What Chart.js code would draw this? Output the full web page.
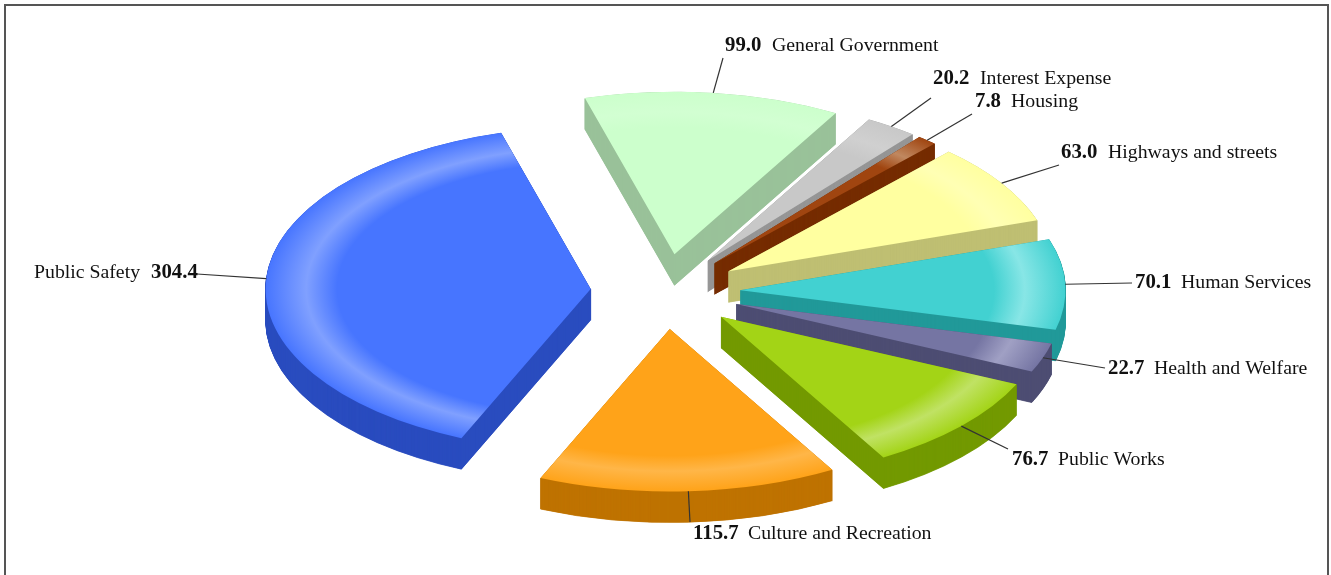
<!DOCTYPE html>
<html>
<head>
<meta charset="utf-8">
<title>Expenses by function</title>
<script src="https://cdn.jsdelivr.net/npm/chart.js@4"></script>
<style>
    html, body { margin: 0; padding: 0; background: #fff; overflow: hidden; }
    #frame { position: absolute; left: 4px; top: 4px; width: 1321px; height: 575px; border: solid #555; border-width: 2px 2px 0 2px; }
    #pie { position: absolute; left: 0; top: 0; }
</style>
</head>
<body>
<div id="frame"></div>
<canvas id="pie" width="1331" height="575"></canvas>
<script>
// Slices, clockwise from the top left
const categories = [
    "General Government",
    "Interest Expense",
    "Housing",
    "Highways and streets",
    "Human Services",
    "Health and Welfare",
    "Public Works",
    "Culture and Recreation",
    "Public Safety",
];
const amounts = [99.0, 20.2, 7.8, 63.0, 70.1, 22.7, 76.7, 115.7, 304.4];
const amountLabels = ["99.0", "20.2", "7.8", "63.0", "70.1", "22.7", "76.7", "115.7", "304.4"];

const topColors = ["#ccffcc", "#c8c8c8", "#a04510", "#ffffa0", "#42d1d1", "#7575a3", "#a3d416", "#ffa319", "#4775ff"];
const glowColors = ["#d2ffd2", "#d0d0d0", "#c08860", "#ffffb4", "#88e6e6", "#a0a0c4", "#c0e264", "#ffb648", "#80a0ff"];
const wallColors = ["#99c299", "#969696", "#752c00", "#bfbf73", "#229999", "#4d4d73", "#739900", "#bf7300", "#2a4cbf"];

// Where each leader line ends and its text sits
const labelSpots = [
    { tipX: 723, tipY: 58, valueX: 725, nameX: 772, baseY: 51 },
    { tipX: 931, tipY: 98, valueX: 933, nameX: 980, baseY: 84 },
    { tipX: 972, tipY: 114, valueX: 975, nameX: 1011, baseY: 107 },
    { tipX: 1059, tipY: 165, valueX: 1061, nameX: 1108, baseY: 158 },
    { tipX: 1132, tipY: 283, valueX: 1135, nameX: 1181, baseY: 288 },
    { tipX: 1105, tipY: 368, valueX: 1108, nameX: 1154, baseY: 374 },
    { tipX: 1008, tipY: 449, valueX: 1012, nameX: 1058, baseY: 465 },
    { tipX: 690, tipY: 522, valueX: 693, nameX: 748, baseY: 539 },
    { tipX: 197, tipY: 274, valueX: 151, nameX: 34, baseY: 278 },
];

const squash = 0.5;
const depth = 31;
const explode = 75;

function midAngle(arc) {
    return (arc.startAngle + arc.endAngle) / 2;
}

// one copy of a slice, pulled out along its middle and flattened
function drawSlice(ctx, arc, look, dy) {
    const original = arc.options;
    const mid = midAngle(arc);
    ctx.save();
    ctx.translate(arc.x, arc.y + dy);
    ctx.scale(1, squash);
    ctx.translate(Math.cos(mid) * explode - arc.x, Math.sin(mid) * explode - arc.y);
    arc.options = Object.assign({}, original, look);
    arc.draw(ctx);
    arc.options = original;
    ctx.restore();
}

const pie3d = {
    id: "pie3d",
    beforeDatasetDraw(chart, args) {
        const ctx = chart.ctx;
        const order = args.meta.data
            .map((arc, i) => ({ arc, i }))
            .sort((a, b) => Math.sin(midAngle(a.arc)) - Math.sin(midAngle(b.arc)));

        order.forEach(({ arc, i }) => {
            // small steps and a hairline border keep the thin tips solid
            const wall = { backgroundColor: wallColors[i], borderColor: wallColors[i], borderWidth: 1 };
            for (let dy = depth; dy > 0; dy -= 0.5) {
                drawSlice(ctx, arc, wall, dy);
            }
            // bright band just inside the rim
            const grad = ctx.createRadialGradient(arc.x, arc.y, 0, arc.x, arc.y, arc.outerRadius);
            grad.addColorStop(0, topColors[i]);
            grad.addColorStop(0.78, topColors[i]);
            grad.addColorStop(0.875, glowColors[i]);
            grad.addColorStop(1, topColors[i]);
            drawSlice(ctx, arc, { backgroundColor: grad }, 0);
        });
        return false;
    },
    afterDatasetsDraw(chart) {
        const ctx = chart.ctx;
        const arcs = chart.getDatasetMeta(0).data;

        ctx.save();
        ctx.strokeStyle = "#333";
        ctx.lineWidth = 1.2;
        arcs.forEach((arc, i) => {
            const spot = labelSpots[i];
            const mid = midAngle(arc);
            const reach = explode + arc.outerRadius;
            ctx.beginPath();
            ctx.moveTo(arc.x + Math.cos(mid) * reach, arc.y + Math.sin(mid) * reach * squash);
            ctx.lineTo(spot.tipX, spot.tipY);
            ctx.stroke();
        });

        ctx.fillStyle = "#111";
        ctx.textBaseline = "alphabetic";
        categories.forEach((name, i) => {
            const spot = labelSpots[i];
            ctx.font = "bold 20.8px 'Liberation Serif'";
            ctx.fillText(amountLabels[i], spot.valueX, spot.baseY);
            ctx.font = "19.8px 'Liberation Serif'";
            ctx.fillText(name, spot.nameX, spot.baseY);
        });
        ctx.restore();
    },
};

document.addEventListener("DOMContentLoaded", function () {
    const ctxPie = document.getElementById("pie").getContext("2d");

    new Chart(ctxPie, {
        type: "pie",
        data: {
            labels: categories,
            datasets: [
                {
                    data: amounts,
                    backgroundColor: topColors,
                    borderWidth: 0,
                },
            ],
        },
        options: {
            responsive: false,
            animation: false,
            radius: 325,
            rotation: -16,
            layout: { padding: { top: 8 } },
            plugins: {
                legend: { display: false },
                tooltip: { enabled: false },
            },
        },
        plugins: [pie3d],
    });
});
</script>
</body>
</html>
